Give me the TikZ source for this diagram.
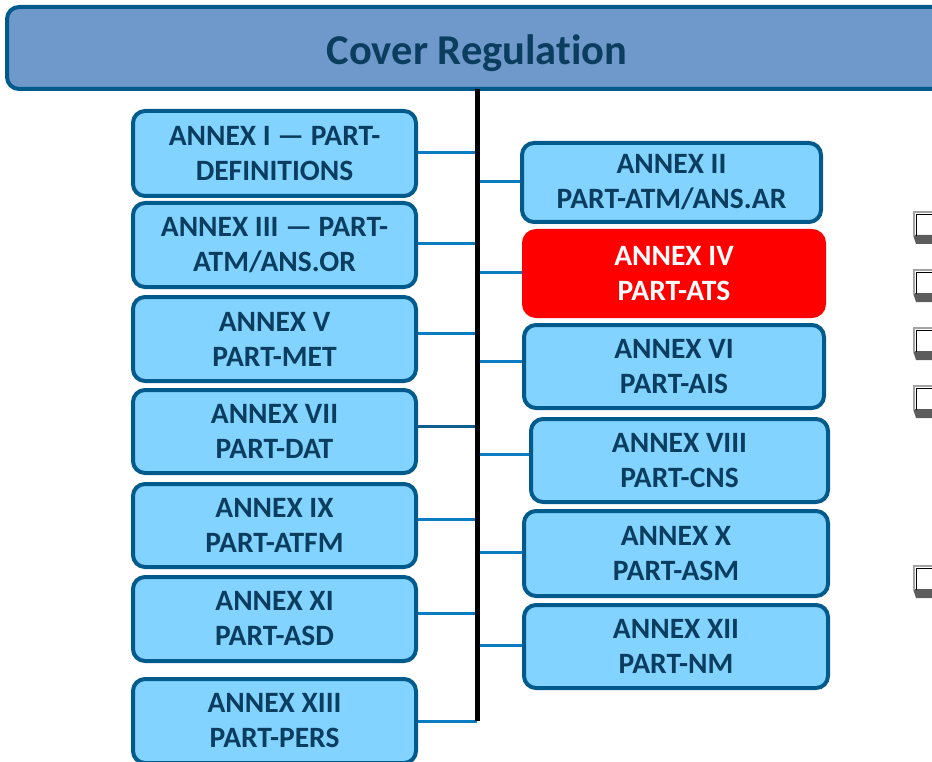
\documentclass[tikz,border=0pt]{standalone}
\usepackage{fontspec}
\setmainfont[Ligatures={NoCommon}]{Carlito}
\usetikzlibrary{backgrounds}
\definecolor{boxline}{HTML}{005A8C}
\definecolor{boxfill}{HTML}{82D3FF}
\definecolor{txt}{HTML}{0B3D5E}
\definecolor{linkc}{HTML}{0A7CC2}
\definecolor{linkd}{HTML}{0E5E8E}
\definecolor{headfill}{HTML}{6F98CB}
\definecolor{framec}{HTML}{A3A3A3}
\definecolor{framed}{HTML}{7A7A7A}
\definecolor{shadowc}{HTML}{5C5C5C}
\tikzset{
  annex/.style={draw=boxline, line width=4pt, fill=boxfill, rounded corners=12pt,
    text=txt, font=\fontsize{29.5}{35}\selectfont\bfseries, align=center, inner sep=0pt},
  redbox/.style={annex, draw=red, fill=red, text=white},
  link/.style={draw=linkc, line width=3pt},
  header/.style={draw=boxline, line width=4pt, fill=headfill, rounded corners=12pt,
    text=txt, font=\fontsize{42.5}{48}\selectfont\bfseries, inner sep=0pt},
}
\begin{document}
\begin{tikzpicture}[x=1pt, y=-1pt]
\useasboundingbox (0,0) rectangle (932,762);
\clip (0,0) rectangle (932,762);

% header
\node[header, minimum width=940pt, minimum height=82pt] (head) at (477,48) {\raisebox{-5pt}[\height][\depth]{Cover Regulation}};

% spine
\coordinate (stop) at (477,89);
\coordinate (sbot) at (477,721);

% left boxes
\node[annex, minimum width=283pt, minimum height=85pt] (b1) at (274.5,153.5) {ANNEX I — PART-\\DEFINITIONS};
\node[annex, minimum width=283pt, minimum height=84pt] (b3) at (274.5,245) {ANNEX III — PART-\\ATM/ANS.OR};
\node[annex, minimum width=283pt, minimum height=84pt] (b5) at (274.5,339) {ANNEX V\\PART-MET};
\node[annex, minimum width=283pt, minimum height=83pt] (b7) at (274.5,431.5) {ANNEX VII\\PART-DAT};
\node[annex, minimum width=283pt, minimum height=83pt] (b9) at (274.5,525.5) {ANNEX IX\\PART-ATFM};
\node[annex, minimum width=283pt, minimum height=84pt] (b11) at (274.5,619) {ANNEX XI\\PART-ASD};
\node[annex, minimum width=283pt, minimum height=84pt] (b13) at (274.5,721) {ANNEX XIII\\PART-PERS};

% right boxes
\node[annex, minimum width=299pt, minimum height=79pt] (b2) at (671.5,182.5) {ANNEX II\\PART-ATM/ANS.AR};
\node[redbox, minimum width=300pt, minimum height=85pt] (b4) at (674,273.5) {ANNEX IV\\PART-ATS};
\node[annex, minimum width=300pt, minimum height=83pt] (b6) at (674,366.5) {ANNEX VI\\PART-AIS};
\node[annex, minimum width=297pt, minimum height=83pt] (b8) at (679.5,460.5) {ANNEX VIII\\PART-CNS};
\node[annex, minimum width=304pt, minimum height=85pt] (b10) at (676,553.5) {ANNEX X\\PART-ASM};
\node[annex, minimum width=304pt, minimum height=83pt] (b12) at (676,646.5) {ANNEX XII\\PART-NM};

% connectors
\begin{scope}[on background layer]
\path ([yshift=1pt]b1.east) coordinate (c1)
      ([yshift=1pt]b3.east) coordinate (c3)
      ([yshift=6pt]b5.east) coordinate (c5)
      ([yshift=5.5pt]b7.east) coordinate (c7)
      ([yshift=6.5pt]b9.east) coordinate (c9)
      ([yshift=6pt]b11.east) coordinate (c11)
      ([yshift=0pt]b13.east) coordinate (c13)
      ([yshift=0.5pt]b2.west) coordinate (c2)
      ([yshift=0.5pt]b4.west) coordinate (c4)
      ([yshift=5.5pt]b6.west) coordinate (c6)
      ([yshift=6.5pt]b8.west) coordinate (c8)
      ([yshift=1.5pt]b10.west) coordinate (c10)
      ([yshift=1.5pt]b12.west) coordinate (c12);
\foreach \c in {c1,c3,c5,c9,c11,c13,c2,c4,c6,c8,c10,c12}
  \draw[link] (\c) -- (\c -| stop);
\draw[link, draw=linkd] (c7) -- (c7 -| stop);
\end{scope}

\draw[line width=5pt] (stop) -- (sbot);

% check box glyphs at right edge
\foreach \t in {211,269,327,385,565} {
  \fill[shadowc] (913,\t+24) -- (916,\t+33) -- (936,\t+33) -- (936,\t+24) -- cycle;
  \draw[framec, line width=2pt] (914,\t+25) -- (914,\t+1) -- (936,\t+1);
  \draw[framed, line width=1pt] (916.5,\t+25) -- (916.5,\t+3.5) -- (936,\t+3.5);
}
\end{tikzpicture}
\end{document}
